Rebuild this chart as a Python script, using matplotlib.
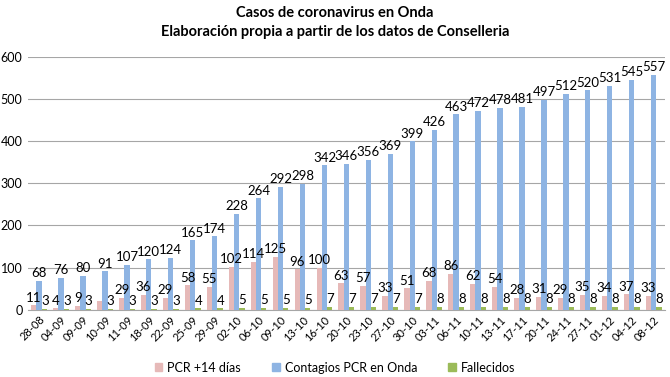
import matplotlib
matplotlib.use("Agg")
import matplotlib.pyplot as plt
import numpy as np
from matplotlib.patches import Patch

plt.rcParams['font.family'] = ['Lato', 'DejaVu Sans']

fechas = ["28-08", "04-09", "09-09", "10-09", "11-09", "18-09", "22-09", "25-09", "29-09",
          "02-10", "06-10", "09-10", "13-10", "16-10", "20-10", "23-10", "27-10", "30-10",
          "03-11", "06-11", "10-11", "13-11", "17-11", "20-11", "24-11", "27-11",
          "01-12", "04-12", "08-12"]
pcr14 = [11, 4, 9, 20, 29, 36, 29, 58, 55, 102, 114, 125, 96, 100, 63, 57, 33, 51,
         68, 86, 62, 54, 28, 31, 29, 35, 34, 37, 33]
pcr14_labels = ["11", "4", "9", "", "29", "36", "29", "58", "55", "102", "114", "125", "96",
                "100", "63", "57", "33", "51", "68", "86", "62", "54", "28", "31", "29",
                "35", "34", "37", "33"]
contagios = [68, 76, 80, 91, 107, 120, 124, 165, 174, 228, 264, 292, 298, 342, 346, 356,
             369, 399, 426, 463, 472, 478, 481, 497, 512, 520, 531, 545, 557]
fallecidos = [3, 3, 3, 3, 3, 3, 3, 4, 4, 5, 5, 5, 5, 7, 7, 7, 7, 7,
              8, 8, 8, 8, 8, 8, 8, 8, 8, 8, 8]

c_pink = "#E6B9B8"
c_blue = "#8EB4E3"
c_green = "#9BBB59"

fig = plt.figure(figsize=(6.7, 3.77), dpi=100)
ax = fig.add_axes([0.042, 0.178, 0.950, 0.672])

x = np.arange(len(fechas))
w = 0.24
ax.bar(x - w, pcr14, w, color=c_pink, zorder=3)
ax.bar(x, contagios, w, color=c_blue, zorder=3)
ax.bar(x + w, fallecidos, w, color=c_green, zorder=3)

fs = 9.5
for i in range(len(fechas)):
    if pcr14_labels[i]:
        ax.text(x[i] - w, pcr14[i] + 4, pcr14_labels[i], ha="center", va="bottom", fontsize=fs)
    ax.text(x[i], contagios[i] + 4, str(contagios[i]), ha="center", va="bottom", fontsize=fs)
    ax.text(x[i] + w + 0.02, fallecidos[i] + 4, str(fallecidos[i]), ha="center", va="bottom", fontsize=fs)

ax.set_ylim(0, 600)
ax.set_yticks(range(0, 601, 100))
ax.set_xlim(-0.5, len(fechas) - 0.5)
ax.set_xticks(x)
ax.set_xticklabels(fechas, rotation=45, ha="right", rotation_mode="anchor", fontsize=8)
ax.tick_params(axis="y", labelsize=9, length=0, pad=4)
ax.tick_params(axis="x", length=0, pad=3)
ax.yaxis.grid(True, color="#A6A6A6", linewidth=0.8, zorder=0)
for s in ["top", "right", "left"]:
    ax.spines[s].set_visible(False)
ax.spines["bottom"].set_color("#A6A6A6")

fig.text(0.5, 0.965, "Casos de coronavirus en Onda", ha="center", va="center",
         fontsize=10.5, fontweight="bold")
fig.text(0.5, 0.915, "Elaboración propia a partir de los datos de Conselleria", ha="center",
         va="center", fontsize=10.5, fontweight="bold")

handles = [Patch(color=c_pink, label="PCR +14 días"),
           Patch(color=c_blue, label="Contagios PCR en Onda"),
           Patch(color=c_green, label="Fallecidos")]
fig.legend(handles=handles, loc="center", bbox_to_anchor=(0.5, 0.025), ncol=3, frameon=False,
           fontsize=9, handlelength=0.6, handleheight=0.6, columnspacing=2.5, handletextpad=0.4)

fig.savefig("out.png", dpi=100)
